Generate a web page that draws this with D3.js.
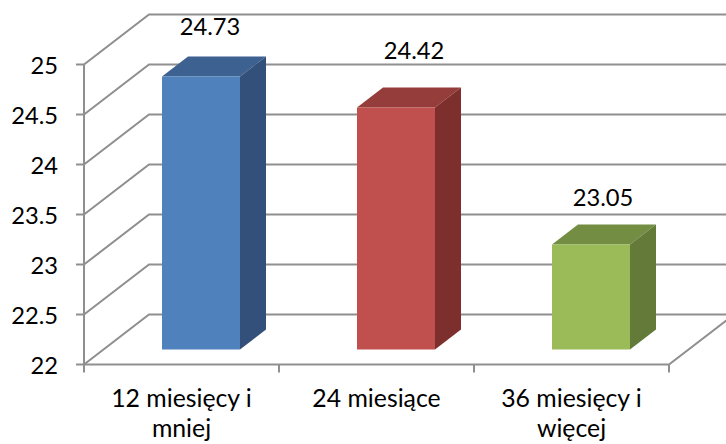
<!DOCTYPE html>
<html>
<head>
<meta charset="utf-8">
<script src="https://cdn.jsdelivr.net/npm/d3@7"></script>
<style>
  html, body { margin: 0; padding: 0; background: #fff; }
  svg { display: block; }
  text { font-family: Lato, "Open Sans", sans-serif; fill: #000; }
</style>
</head>
<body>
<svg id="chart" width="726" height="444"></svg>
<script>
// Chart content
const categories = [["12 miesięcy i", "mniej"], ["24 miesiące"], ["36 miesięcy i", "więcej"]];
const values = [24.73, 24.42, 23.05];
const valueLabels = ["24.73", "24.42", "23.05"];
const yTicks = [22, 22.5, 23, 23.5, 24, 24.5, 25];
const yTickLabels = ["22", "22.5", "23", "23.5", "24", "24.5", "25"];

// Box colours: front, top and side faces of each bar
const frontColors = ["#4f81bd", "#c0504d", "#9bbb59"];
const topColors = ["#3d6191", "#943d3b", "#738e43"];
const sideColors = ["#325079", "#7d2f2d", "#647a39"];

// Hand placement of the value labels relative to the bar's front face
const labelDx = [9, 18, 12];
const labelDy = [-41.5, -48.5, -39];

// Oblique projection: how far the floor recedes, and where bars sit in that depth
const wallDx = 65, wallDy = -50;
const barDepthStart = 0.30, barDepthEnd = 0.70;
const gridColor = "#8f8f8f";
const fontSize = 23.7;
const categoryFontSize = 24.8;

const svg = d3.select("#chart");
const x = d3.scaleBand().domain(d3.range(categories.length)).range([84, 669]).paddingInner(0).paddingOuter(0);
const y = d3.scaleLinear().domain([22, 25]).range([364.5, 64.5]);
const barWidth = x.bandwidth() * 0.4;

// Back wall gridlines and the diagonal lines running across the side wall
const grid = svg.append("g").attr("fill", "none").attr("stroke", gridColor).attr("stroke-width", 2);
yTicks.forEach(t => {
  grid.append("path").attr("d", d3.line()([
    [x.range()[0], y(t)],
    [x.range()[0] + wallDx, y(t) + wallDy],
    [x.range()[1] + wallDx, y(t) + wallDy]
  ]));
});
// Floor: front edge and the right-hand edge
grid.append("path").attr("d", d3.line()([[x.range()[0], y(22)], [x.range()[1], y(22)], [x.range()[1] + wallDx, y(22) + wallDy]]));
// Value axis line
grid.append("path").attr("d", d3.line()([[x.range()[0], y(25)], [x.range()[0], y(22)]]));

// Tick marks
yTicks.forEach(t => {
  grid.append("path").attr("d", d3.line()([[x.range()[0] - 8, y(t)], [x.range()[0], y(t)]]));
});
d3.range(categories.length + 1).forEach(i => {
  const px = i < categories.length ? x(i) : x.range()[1];
  grid.append("path").attr("d", d3.line()([[px, y(22)], [px, y(22) + 8]]));
});

// Bars
const bars = svg.append("g").selectAll("g").data(values).join("g");
const depth = t => [wallDx * t, wallDy * t];
const [fx, fy] = depth(barDepthStart);
const [bx, by] = depth(barDepthEnd);
const ddx = bx - fx, ddy = by - fy;
const polyLine = d3.line();

bars.each(function (v, i) {
  const g = d3.select(this);
  const left = x(i) + (x.bandwidth() - barWidth) / 2 + fx;
  const right = left + barWidth;
  const bottom = y(22) + fy;
  const top = y(v) + fy;
  g.append("path").attr("fill", topColors[i])
    .attr("d", polyLine([[left, top], [left + ddx, top + ddy], [right + ddx, top + ddy], [right, top]]) + "Z");
  g.append("path").attr("fill", sideColors[i])
    .attr("d", polyLine([[right, top], [right + ddx, top + ddy], [right + ddx, bottom + ddy], [right, bottom]]) + "Z");
  g.append("rect").attr("fill", frontColors[i])
    .attr("x", left).attr("y", top).attr("width", barWidth).attr("height", bottom - top);
  g.append("text")
    .attr("x", (left + right) / 2 + labelDx[i]).attr("y", top + labelDy[i])
    .attr("text-anchor", "middle").attr("font-size", fontSize)
    .text(valueLabels[i]);
});

// Value axis labels
svg.append("g").selectAll("text").data(yTicks).join("text")
  .attr("x", 58).attr("y", d => y(d) + 9)
  .attr("text-anchor", "end").attr("font-size", fontSize)
  .text((d, i) => yTickLabels[i]);

// Category labels
svg.append("g").selectAll("text").data(categories).join("text")
  .attr("text-anchor", "middle").attr("font-size", categoryFontSize)
  .each(function (lines, i) {
    d3.select(this).selectAll("tspan").data(lines).join("tspan")
      .attr("x", x(i) + x.bandwidth() / 2)
      .attr("y", (d, k) => 407 + k * 30)
      .text(d => d);
  });
</script>
</body>
</html>
